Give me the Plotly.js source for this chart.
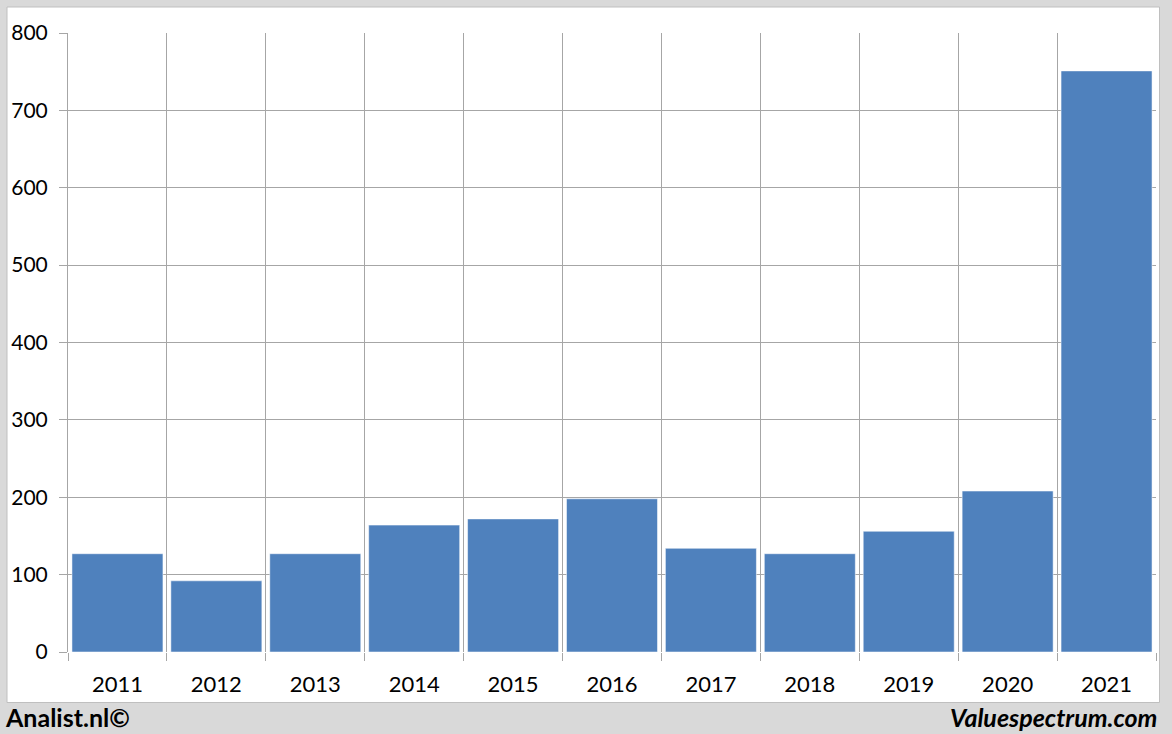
<!DOCTYPE html>
<html>
<head>
<meta charset="utf-8">
<script src="https://cdn.plot.ly/plotly-3.0.1.min.js"></script>
<style>
html,body{margin:0;padding:0;background:#d9d9d9;}
#chart{width:1172px;height:734px;}
</style>
</head>
<body>
<div id="chart"></div>
<script>
var years = ['2011','2012','2013','2014','2015','2016','2017','2018','2019','2020','2021'];
var values = [127, 92, 127, 164, 172, 198, 134, 127, 156, 208, 751];
var yTicks = [0, 100, 200, 300, 400, 500, 600, 700, 800];
var leftCredit = 'Analist.nl©';
var rightCredit = '<i>Valuespectrum.com</i>';

var W = 1172, H = 734;
var m = {l: 68, r: 16, t: 33, b: 82};
var pw = W - m.l - m.r, ph = H - m.t - m.b;
function px(x){ return (x - m.l) / pw; }
function py(y){ return (H - m.b - y) / ph; }

var FONT = 'Lato, "Open Sans", "Liberation Sans", sans-serif';

var trace = {
  type: 'bar',
  x: years,
  y: values,
  marker: {color: '#4f81bd', line: {color: 'rgba(255,255,255,0.5)', width: 1}},
  hoverinfo: 'x+y'
};

var layout = {
  width: W, height: H,
  margin: m,
  paper_bgcolor: '#d9d9d9',
  plot_bgcolor: '#ffffff',
  showlegend: false,
  bargap: 0.08,
  font: {family: FONT, color: '#000000', size: 21},
  xaxis: {
    type: 'category',
    tickson: 'boundaries',
    showgrid: true,
    gridcolor: '#a6a6a6',
    gridwidth: 1,
    ticks: 'outside',
    ticklen: 8,
    tickcolor: '#a6a6a6',
    showline: false,
    zeroline: false,
    tickfont: {family: FONT, size: 22, color: '#000'},
    ticklabelstandoff: 17,
    fixedrange: true
  },
  yaxis: {
    range: [0, 800],
    tickvals: yTicks,
    ticktext: yTicks.map(String),
    showgrid: true,
    gridcolor: '#a6a6a6',
    gridwidth: 1,
    ticks: 'outside',
    ticklen: 8,
    tickcolor: '#a6a6a6',
    showline: true,
    linecolor: '#a6a6a6',
    linewidth: 1,
    zeroline: false,
    tickfont: {family: FONT, size: 21, color: '#000'},
    ticklabelstandoff: 7,
    fixedrange: true
  },
  shapes: [
    {type: 'rect', xref: 'paper', yref: 'paper', layer: 'below',
     x0: px(7), x1: px(1159.5), y0: py(702.5), y1: py(7),
     fillcolor: '#ffffff', line: {color: '#bfbfbf', width: 1}}
  ],
  annotations: [
    {xref: 'paper', yref: 'paper', x: px(3), y: py(717), xanchor: 'left', yanchor: 'middle',
     text: '<b>' + leftCredit + '</b>', showarrow: false,
     font: {family: FONT, size: 25, color: '#000'}},
    {xref: 'paper', yref: 'paper', x: px(1159), y: py(717), xanchor: 'right', yanchor: 'middle',
     text: '<b>' + rightCredit + '</b>', showarrow: false,
     font: {family: FONT, size: 25, color: '#000'}}
  ]
};

Plotly.newPlot('chart', [trace], layout, {displayModeBar: false, staticPlot: true});
</script>
</body>
</html>
